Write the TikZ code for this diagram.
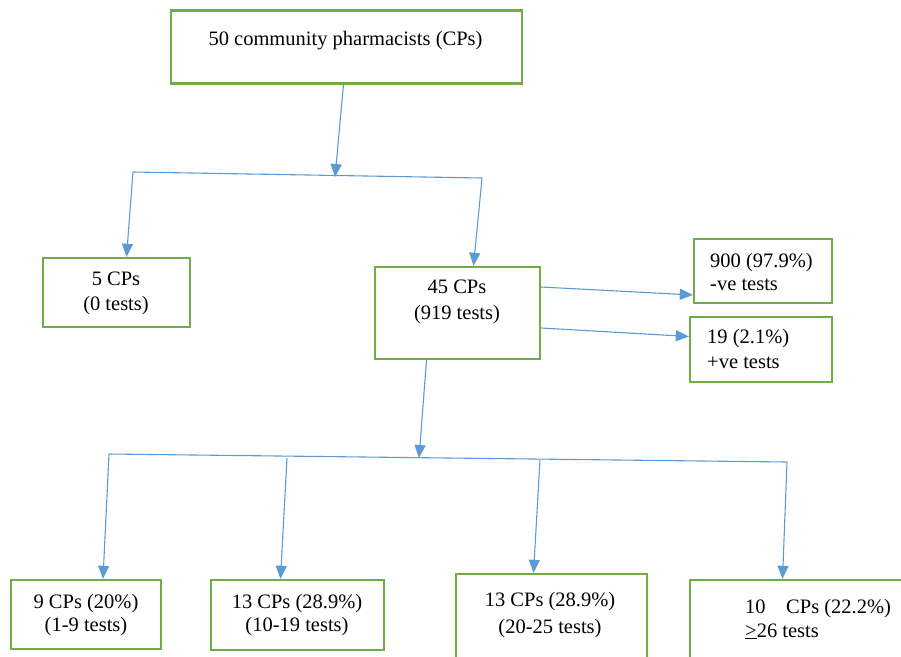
\documentclass[tikz,border=0pt]{standalone}
\usepackage{fontspec}
\setmainfont{Liberation Serif}
\usetikzlibrary{arrows.meta}
\definecolor{boxgreen}{RGB}{112,173,71}
\definecolor{linkblue}{RGB}{91,155,213}

\begin{document}
\begin{tikzpicture}[x=1pt, y=-1pt,
    box/.style={draw=boxgreen, line width=2.4pt, inner sep=0pt},
    txt/.style={font=\fontsize{20.5}{24}\selectfont, inner sep=0pt, anchor=base},
    ltxt/.style={txt, anchor=base west},
    link/.style={draw=linkblue, line width=1.1pt},
    arr/.style={link, -{Triangle[length=13pt, width=11pt]}}]
    \useasboundingbox (0,0) rectangle (901,656);
    \clip (0,0) rectangle (901,656);

    \node[box, minimum width=351pt, minimum height=73pt] (top) at (346.5,47) {};
    \node[box, minimum width=147pt, minimum height=69pt] (five) at (116.5,292.5) {};
    \node[box, minimum width=165pt, minimum height=92pt] (ff) at (457.5,313) {};
    \node[box, minimum width=138pt, minimum height=64pt] (neg) at (763,271) {};
    \node[box, minimum width=142pt, minimum height=65pt] (pos) at (761,349.5) {};
    \foreach \n/\x/\y/\w/\h in {bA/86/614.5/150/69, bB/297.5/615/173/70,
                                bC/551.5/620/191/92, bD/802.5/625/225/90} {
        \node[box, minimum width=\w pt, minimum height=\h pt] (\n) at (\x,\y) {};
    }

    \node[txt] (topT) at (345.5,45) {50 community pharmacists (CPs)};
    \node[txt] (fiveA) at (116,285) {5 CPs};
    \node[txt] (fiveB) at (116,310) {(0 tests)};
    \node[txt] (ffA) at (457,293) {45 CPs};
    \node[txt] (ffB) at (457,319) {(919 tests)};
    \node[ltxt] (negA) at (710,267) {900 (97.9\%)};
    \node[ltxt] (negB) at (710,290) {-ve tests};
    \node[ltxt] (posA) at (707,343) {19 (2.1\%)};
    \node[ltxt] (posB) at (707,368) {+ve tests};
    \node[txt] (bAa) at (86,608) {9 CPs (20\%)};
    \node[txt] (bAb) at (86,631) {(1-9 tests)};
    \node[txt] (bBa) at (297,608) {13 CPs (28.9\%)};
    \node[txt] (bBb) at (297,631) {(10-19 tests)};
    \node[txt] (bCa) at (550,606) {13 CPs (28.9\%)};
    \node[txt] (bCb) at (550,633) {(20-25 tests)};
    \node[ltxt] (bDa) at (745,613) {10\quad CPs (22.2\%)};
    \node[ltxt] (bDb) at (745,637) {\underline{>}26 tests};

    \coordinate (jA) at (335,177);
    \coordinate (jAl) at (133,172);
    \coordinate (jAr) at (482,178);
    \draw[arr] ([xshift=-3pt]top.south) -- (jA);
    \draw[link] (jAl) -- (jAr);
    \draw[arr] (jAl) -- ([xshift=10pt]five.north);
    \draw[arr] (jAr) -- ([xshift=16pt]ff.north);
    \draw[arr] ([yshift=26pt]ff.east) -- ([yshift=-24pt]neg.west);
    \draw[arr] ([yshift=-15pt]ff.east) -- ([yshift=13pt]pos.west);

    \coordinate (jB) at (419,458);
    \coordinate (jBl) at (109,454);
    \coordinate (jBr) at (787,462);
    \coordinate (jBb) at (287,458);
    \coordinate (jBc) at (540,460);
    \draw[arr] ([xshift=-31pt]ff.south) -- (jB);
    \draw[link] (jBl) -- (jBr);
    \draw[arr] (jBl) -- ([xshift=17pt]bA.north);
    \draw[arr] (jBb) -- ([xshift=-17pt]bB.north);
    \draw[arr] (jBc) -- ([xshift=-18pt]bC.north);
    \draw[arr] (jBr) -- ([xshift=-20pt]bD.north);
\end{tikzpicture}
\end{document}
